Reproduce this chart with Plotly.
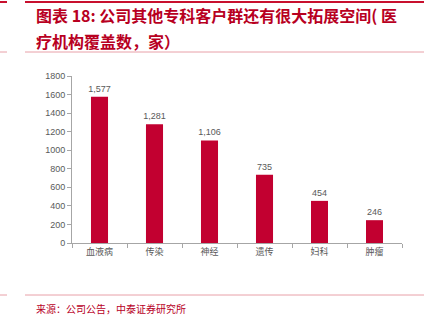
import plotly.graph_objects as go

categories = ["血液病", "传染", "神经", "遗传", "妇科", "肿瘤"]
values = [1577, 1281, 1106, 735, 454, 246]
value_labels = ["1,577", "1,281", "1,106", "735", "454", "246"]
y_ticks = [0, 200, 400, 600, 800, 1000, 1200, 1400, 1600, 1800]

W, H = 429, 326
L, R, T, B = 72, 27, 76, 83
PW, PH = W - L - R, H - T - B

CJK = "Noto Sans CJK SC"
RED = "#b8001f"
BAR = "#c20030"
GRAY = "#595959"

fig = go.Figure(
    go.Bar(
        x=categories,
        y=values,
        marker=dict(color=BAR, line=dict(width=0)),
        width=0.31,
        text=value_labels,
        textposition="outside",
        constraintext="none",
        textfont=dict(family="Arial, Liberation Sans", size=9, color=GRAY),
        cliponaxis=False,
    )
)

fig.update_layout(
    width=W,
    height=H,
    margin=dict(l=L, r=R, t=T, b=B),
    paper_bgcolor="white",
    plot_bgcolor="white",
    showlegend=False,
)

fig.update_xaxes(
    showgrid=False,
    showline=True,
    linecolor="#a6a6a6",
    linewidth=1,
    ticks="outside",
    ticklen=4,
    tickcolor="#a6a6a6",
    tickson="boundaries",
    tickfont=dict(family=CJK, size=9, color=GRAY),
)
fig.update_yaxes(
    range=[0, 1800],
    tickvals=y_ticks,
    showgrid=False,
    showline=True,
    linecolor="#a6a6a6",
    linewidth=1,
    ticks="outside",
    ticklen=4,
    tickcolor="#a6a6a6",
    tickfont=dict(family="Arial, Liberation Sans", size=9, color=GRAY),
    zeroline=False,
)

# convert page pixels to paper coordinates (paper spans the plot area)
def px_x(x):
    return (x - L) / PW

def px_y(y):
    return (H - B - y) / PH

# header and footer rules
rules = [
    (2, 2.0, "#c8102e"),
    (52, 1.0, "#e8a0a8"),
    (295, 1.0, "#e8a0a8"),
]
for y, w, c in rules:
    for x0, x1 in [(0, 7), (25, 424)]:
        fig.add_shape(
            type="line", xref="paper", yref="paper",
            x0=px_x(x0), x1=px_x(x1), y0=px_y(y), y1=px_y(y),
            line=dict(color=c, width=w),
        )

title_lines = ["图表 18: 公司其他专科客户群还有很大拓展空间( 医", "疗机构覆盖数，家）"]
for i, line in enumerate(title_lines):
    fig.add_annotation(
        text="<b>" + line + "</b>",
        xref="paper", yref="paper",
        x=px_x(34), y=px_y(15 + i * 26),
        xanchor="left", yanchor="middle",
        showarrow=False,
        font=dict(family=CJK, size=16, color=RED),
    )

fig.add_annotation(
    text="来源：公司公告，中泰证券研究所",
    xref="paper", yref="paper",
    x=px_x(34), y=px_y(308),
    xanchor="left", yanchor="middle",
    showarrow=False,
    font=dict(family=CJK, size=10, color=RED),
)

fig.write_html("out.html")
